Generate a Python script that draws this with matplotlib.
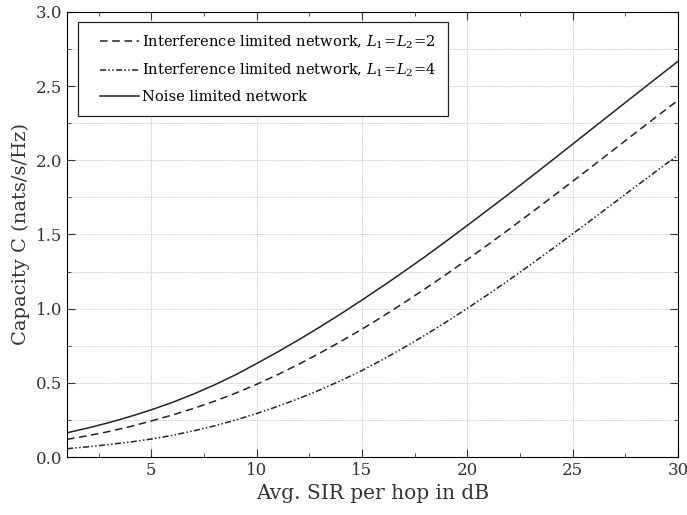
import numpy as np
import matplotlib
matplotlib.use("Agg")
import matplotlib.pyplot as plt
from matplotlib.ticker import MultipleLocator, FormatStrFormatter
from matplotlib.lines import Line2D
from matplotlib.legend_handler import HandlerLine2D

# values (1 dB steps)
sir_db = list(range(1, 31))
cap_noise = [0.163, 0.196, 0.232, 0.273, 0.318, 0.368, 0.424, 0.486, 0.554, 0.630,
             0.708, 0.790, 0.876, 0.965, 1.058, 1.153, 1.251, 1.351, 1.455, 1.561,
             1.668, 1.776, 1.886, 1.997, 2.109, 2.221, 2.333, 2.445, 2.556, 2.667]
cap_l2 = [0.119, 0.144, 0.172, 0.205, 0.243, 0.283, 0.327, 0.376, 0.430, 0.490,
          0.555, 0.625, 0.700, 0.779, 0.862, 0.949, 1.040, 1.134, 1.231, 1.331,
          1.433, 1.537, 1.643, 1.750, 1.858, 1.967, 2.077, 2.187, 2.296, 2.404]
cap_l4 = [0.056, 0.069, 0.084, 0.101, 0.121, 0.146, 0.176, 0.210, 0.249, 0.293,
          0.341, 0.394, 0.452, 0.515, 0.583, 0.658, 0.738, 0.822, 0.910, 1.002,
          1.097, 1.195, 1.296, 1.399, 1.504, 1.610, 1.717, 1.824, 1.930, 2.035]

labels = [r"Interference limited network, $L_1\!=\!L_2\!=\!2$",
          r"Interference limited network, $L_1\!=\!L_2\!=\!4$",
          "Noise limited network"]

plt.rcParams['font.family'] = ['DejaVu Serif']
plt.rcParams['mathtext.fontset'] = 'dejavuserif'

fig = plt.figure(figsize=(6.87, 5.15), dpi=100)
ax = fig.add_axes([0.0975, 0.1126, 0.8895, 0.8644])

col = '#222222'
ax.plot(sir_db, cap_l2, color=col, lw=1.1, ls=(0, (5, 3)), label=labels[0])
ax.plot(sir_db, cap_l4, color=col, lw=1.1, ls=(0, (4, 1.5, 1, 1.5, 1, 1.5)), label=labels[1])
ax.plot(sir_db, cap_noise, color=col, lw=1.1, ls='-', label=labels[2])

ax.set_xlim(1, 30)
ax.set_ylim(0, 3)
ax.xaxis.set_major_locator(MultipleLocator(5))
ax.xaxis.set_minor_locator(MultipleLocator(2.5))
ax.yaxis.set_major_locator(MultipleLocator(0.5))
ax.yaxis.set_minor_locator(MultipleLocator(0.25))
ax.yaxis.set_major_formatter(FormatStrFormatter('%.1f'))

ax.tick_params(which='both', direction='in', top=True, right=True, labelsize=12, colors='#333333')
ax.tick_params(which='major', length=6)
ax.tick_params(which='minor', length=3)

ax.grid(True, which='major', color='#cccccc', ls=(0, (2, 1)), lw=0.6)
ax.grid(True, which='minor', axis='y', color='#cccccc', ls=(0, (2, 1)), lw=0.6)
ax.set_axisbelow(True)

ax.set_xlabel("Avg. SIR per hop in dB", fontsize=14.5, color='#333333')
ax.set_ylabel("Capacity C (nats/s/Hz)", fontsize=14, color='#333333')

leg = ax.legend(loc='upper left', bbox_to_anchor=(0.018, 0.978), fontsize=10.5,
                handlelength=3.4, handletextpad=0.2, borderaxespad=0, borderpad=0.8,
                fancybox=False, framealpha=1, edgecolor='#222222', labelspacing=0.75,
                handler_map={Line2D: HandlerLine2D(xpad=0.7)})
leg.get_frame().set_linewidth(0.9)

plt.savefig("out.png", dpi=100)
